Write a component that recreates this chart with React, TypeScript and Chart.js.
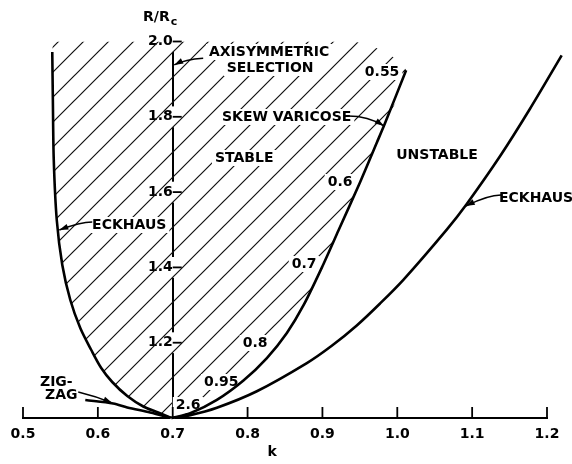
import React, { useEffect, useRef } from 'react';
import { Chart, registerables } from 'chart.js';

Chart.register(...registerables);

// ---- axes ----
const xTickValues = [0.5, 0.6, 0.7, 0.8, 0.9, 1.0, 1.1, 1.2];
const xTickLabels = ['0.5', '0.6', '0.7', '0.8', '0.9', '1.0', '1.1', '1.2'];
const yTickValues = [1.0, 1.2, 1.4, 1.6, 1.8, 2.0];
const yTickLabels = ['', '1.2', '1.4', '1.6', '1.8', '2.0'];

// ---- curves (k, R/Rc) ----
const eckhausLeftK = [0.5391, 0.5399, 0.5411, 0.5451, 0.5525, 0.5632, 0.5765, 0.5912, 0.6045, 0.6192, 0.6393, 0.6607, 0.6806, 0.698];
const eckhausLeftR = [1.9721, 1.8446, 1.6853, 1.5259, 1.4064, 1.3134, 1.239, 1.1806, 1.1328, 1.0956, 1.0584, 1.0305, 1.0146, 1.0];

const zigzagK = [0.5832, 0.6205, 0.6393, 0.6699, 0.698];
const zigzagR = [1.0478, 1.0385, 1.0279, 1.0146, 1.0];

const skewK = [0.698, 0.7234, 0.759, 0.7945, 0.8258, 0.8525, 0.8746, 0.9013, 0.9214, 0.9503, 0.9726, 0.9837, 1.0118];
const skewR = [1.0, 1.0127, 1.0483, 1.0998, 1.1593, 1.226, 1.2989, 1.4084, 1.4978, 1.6264, 1.7312, 1.7834, 1.9239];

const eckhausRightK = [0.698, 0.7234, 0.759, 0.8124, 0.8792, 0.9125, 0.9459, 0.977, 1.0081, 1.0661, 1.0928, 1.1372, 1.1773, 1.2196];
const eckhausRightR = [1.0, 1.0076, 1.0272, 1.071, 1.1458, 1.1918, 1.2458, 1.3042, 1.3671, 1.5005, 1.5686, 1.6951, 1.8214, 1.9631];

// top edge of the hatched (stable) region
const hatchTopK = [0.94, 0.54];
const hatchTopR = [2.0, 2.0];

// ---- annotations ----
const labelTexts = ['AXISYMMETRIC', 'SELECTION', 'SKEW VARICOSE', 'STABLE', 'UNSTABLE', 'ECKHAUS', 'ECKHAUS', '0.55', '0.6', '0.7', '0.8', '0.95', '2.6', 'ZIG-', 'ZAG', 'k'];
const labelK = [0.8288, 0.8301, 0.8522, 0.7955, 1.0531, 1.1854, 0.6419, 0.9797, 0.9236, 0.8756, 0.81, 0.7648, 0.7207, 0.5445, 0.5511, 0.8328];
const labelR = [1.9721, 1.9296, 1.7995, 1.6906, 1.6985, 1.5843, 1.5126, 1.919, 1.6268, 1.409, 1.1992, 1.0956, 1.0345, 1.0956, 1.0611, 0.9097];
const labelInHatch = [true, true, true, true, false, false, true, true, true, true, true, true, true, false, false, false];

// leader arrows: tail, bend, head
const arrowK = [
  [0.7407, 0.7167, 0.702],
  [0.9343, 0.961, 0.982],
  [1.1386, 1.1212, 1.0915],
  [0.5925, 0.5765, 0.5485],
  [0.5738, 0.5965, 0.6192],
];
const arrowR = [
  [1.9554, 1.9527, 1.9376],
  [1.8021, 1.8021, 1.776],
  [1.5923, 1.5923, 1.563],
  [1.5206, 1.5206, 1.4993],
  [1.0691, 1.0584, 1.0398],
];

const yTitleK = 0.679;
const yTitleR = 2.065;

const FONT_FAMILY = '"DejaVu Sans", "Liberation Sans", sans-serif';
const TENSION = 0.3;

const toPts = (ks: number[], rs: number[]) => ks.map((k, i) => ({ x: k, y: rs[i] }));

export default function App() {
  const ref = useRef<HTMLCanvasElement | null>(null);

  useEffect(() => {
    const canvas = ref.current;
    if (!canvas) return;

    const tile = document.createElement('canvas');
    tile.width = 25;
    tile.height = 25;
    const tctx = tile.getContext('2d')!;
    tctx.strokeStyle = '#111';
    tctx.lineWidth = 1.2;
    tctx.beginPath();
    tctx.moveTo(0, 25);
    tctx.lineTo(25, 0);
    tctx.moveTo(-3, 3);
    tctx.lineTo(3, -3);
    tctx.moveTo(22, 28);
    tctx.lineTo(28, 22);
    tctx.stroke();
    const pattern = canvas.getContext('2d')!.createPattern(tile, 'repeat');

    const font = { family: FONT_FAMILY, size: 14, weight: 'bold' as const };

    const hatchPts = [
      ...toPts(eckhausLeftK, eckhausLeftR),
      ...toPts(skewK, skewR).slice(1),
      ...toPts(hatchTopK, hatchTopR),
    ];

    const line = {
      showLine: true,
      borderColor: '#000',
      borderWidth: 2.6,
      pointRadius: 0,
      tension: TENSION,
      fill: false,
      order: 0,
    };

    const annotPlugin = {
      id: 'annot',
      afterDatasetDraw(chart: any, args: any) {
        if (chart.data.datasets[args.index].label !== 'hatch') return;
        const { ctx, scales } = chart;
        const x = scales.x, y = scales.y;
        ctx.save();
        ctx.font = `bold 14px ${FONT_FAMILY}`;
        ctx.fillStyle = '#fff';
        labelTexts.forEach((t, i) => {
          if (!labelInHatch[i]) return;
          const X = x.getPixelForValue(labelK[i]);
          const Y = y.getPixelForValue(labelR[i]);
          const w = ctx.measureText(t).width;
          ctx.fillRect(X - w / 2 - 3, Y - 8, w + 6, 16);
        });
        ctx.restore();
      },
      afterDraw(chart: any) {
        const { ctx, scales } = chart;
        const x = scales.x, y = scales.y;
        const px = (v: number) => x.getPixelForValue(v);
        const py = (v: number) => y.getPixelForValue(v);
        ctx.save();
        ctx.strokeStyle = '#000';
        ctx.fillStyle = '#000';
        // inward x ticks
        ctx.lineWidth = 1.8;
        xTickValues.forEach((v) => {
          const X = px(v);
          ctx.beginPath();
          ctx.moveTo(X, y.bottom);
          ctx.lineTo(X, y.bottom - 11);
          ctx.stroke();
        });
        // y ticks to the right of the axis
        const ax = px(0.7);
        yTickValues.forEach((v, i) => {
          if (i === 0) return;
          const Y = py(v);
          ctx.beginPath();
          ctx.moveTo(ax, Y);
          ctx.lineTo(ax + 9, Y);
          ctx.stroke();
        });
        // labels
        ctx.font = `bold 14px ${FONT_FAMILY}`;
        ctx.textAlign = 'center';
        ctx.textBaseline = 'middle';
        labelTexts.forEach((t, i) => {
          ctx.fillText(t, px(labelK[i]), py(labelR[i]));
        });
        // y title R/Rc
        const tx = px(yTitleK), ty = py(yTitleR);
        ctx.textAlign = 'left';
        ctx.fillText('R/R', tx - 14, ty);
        const rw = ctx.measureText('R/R').width;
        ctx.font = `bold 11px ${FONT_FAMILY}`;
        ctx.fillText('c', tx - 14 + rw + 1, ty + 5);
        // arrows
        ctx.lineWidth = 1.4;
        arrowK.forEach((ks, i) => {
          const rs = arrowR[i];
          const p0 = [px(ks[0]), py(rs[0])];
          const p1 = [px(ks[1]), py(rs[1])];
          const p2 = [px(ks[2]), py(rs[2])];
          ctx.beginPath();
          ctx.moveTo(p0[0], p0[1]);
          ctx.quadraticCurveTo(p1[0], p1[1], p2[0], p2[1]);
          ctx.stroke();
          const dx = p2[0] - p1[0], dy = p2[1] - p1[1];
          const len = Math.hypot(dx, dy) || 1;
          const ux = dx / len, uy = dy / len;
          const L = 9, W = 3;
          ctx.beginPath();
          ctx.moveTo(p2[0], p2[1]);
          ctx.lineTo(p2[0] - ux * L - uy * W, p2[1] - uy * L + ux * W);
          ctx.lineTo(p2[0] - ux * L + uy * W, p2[1] - uy * L - ux * W);
          ctx.closePath();
          ctx.fill();
        });
        ctx.restore();
      },
    };

    const chart = new Chart(canvas, {
      type: 'scatter',
      data: {
        datasets: [
          { ...line, label: 'eckhausLeft', data: toPts(eckhausLeftK, eckhausLeftR) },
          { ...line, label: 'zigzag', data: toPts(zigzagK, zigzagR) },
          { ...line, label: 'skew', data: toPts(skewK, skewR) },
          { ...line, label: 'eckhausRight', data: toPts(eckhausRightK, eckhausRightR), clip: false },
          {
            label: 'hatch',
            data: hatchPts,
            showLine: true,
            borderWidth: 0,
            borderColor: 'rgba(0,0,0,0)',
            backgroundColor: pattern as any,
            pointRadius: 0,
            tension: TENSION,
            fill: 'shape',
            order: 10,
          },
        ] as any,
      },
      options: {
        animation: false,
        responsive: false,
        events: [],
        layout: { padding: { left: 23, right: 25, top: 41.5, bottom: 0 } },
        plugins: { legend: { display: false }, tooltip: { enabled: false } },
        scales: {
          x: {
            type: 'linear',
            min: 0.5,
            max: 1.2,
            afterBuildTicks: (s: any) => {
              s.ticks = xTickValues.map((v) => ({ value: v }));
            },
            afterFit: (s: any) => {
              s.height = 46;
            },
            ticks: {
              callback: (_v: any, i: number) => xTickLabels[i],
              font,
              color: '#000',
              padding: 8,
              maxRotation: 0,
              autoSkip: false,
            },
            grid: { display: false, drawTicks: false },
            border: { display: true, color: '#000', width: 2 },
          },
          y: {
            type: 'linear',
            min: 1.0,
            max: 2.0,
            position: { x: 0.7 } as any,
            z: 1,
            afterBuildTicks: (s: any) => {
              s.ticks = yTickValues.map((v) => ({ value: v }));
            },
            ticks: {
              callback: (_v: any, i: number) => yTickLabels[i],
              font,
              color: '#000',
              padding: 10,
              showLabelBackdrop: true,
              backdropColor: '#fff',
              backdropPadding: 2,
            } as any,
            grid: { display: false, drawTicks: false },
            border: { display: true, color: '#000', width: 2 },
          },
        },
      } as any,
      plugins: [annotPlugin],
    });

    return () => chart.destroy();
  }, []);

  return (
    <div style={{ position: 'absolute', left: 0, top: 0, width: 572, height: 464, background: '#fff' }}>
      <canvas ref={ref} width={572} height={464} style={{ display: 'block' }} />
    </div>
  );
}
